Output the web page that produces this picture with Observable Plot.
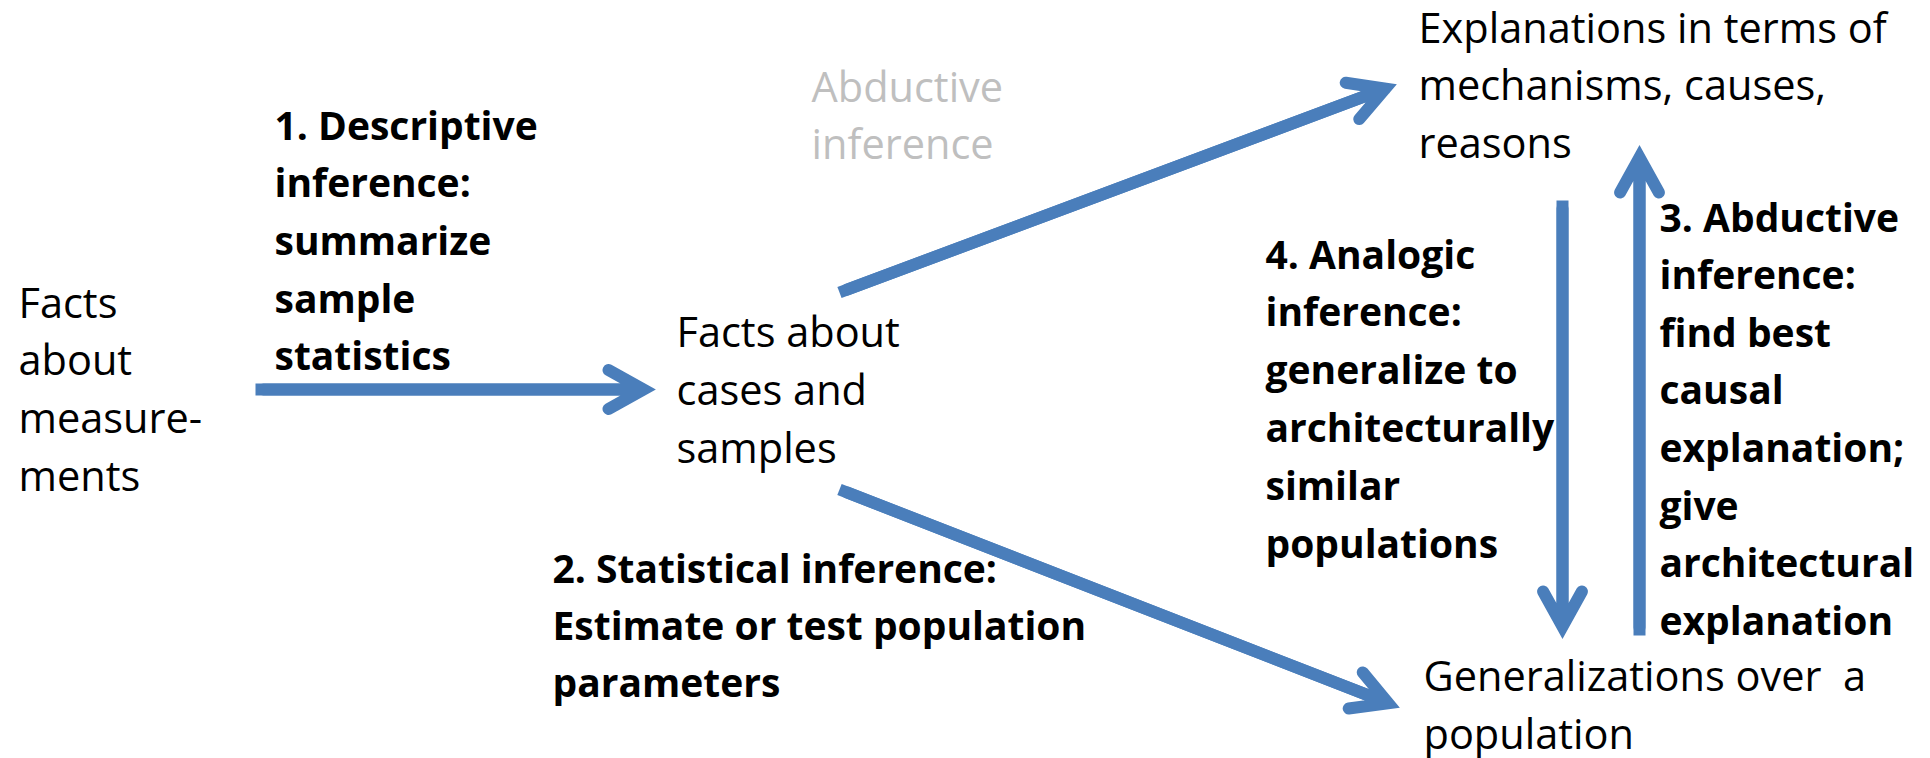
<!DOCTYPE html>
<html>
<head>
<meta charset="utf-8">
<script src="https://cdn.jsdelivr.net/npm/d3@7"></script>
<script src="https://cdn.jsdelivr.net/npm/@observablehq/plot@0.6"></script>
<style>
  html, body { margin: 0; padding: 0; background: #ffffff; }
  svg text { white-space: pre; }
</style>
</head>
<body>
<div id="chart"></div>
<script>
// ---- Diagram content ----
// Text blocks: lines, anchor (left x, first baseline y), line step, style kind
const blockLines = [
  ["Facts", "about", "measure-", "ments"],
  ["1. Descriptive", "inference:", "summarize", "sample", "statistics"],
  ["Abductive", "inference"],
  ["Facts about", "cases and", "samples"],
  ["Explanations in terms of", "mechanisms, causes,", "reasons"],
  ["4. Analogic", "inference:", "generalize to", "architecturally", "similar", "populations"],
  ["3. Abductive", "inference:", "find best", "causal", "explanation;", "give", "architectural", "explanation"],
  ["2. Statistical inference:", "Estimate or test population", "parameters"],
  ["Generalizations over  a", "population"]
];
const blockKind = ["node", "step", "faint", "node", "node", "step", "step", "step", "node"];
const blockX = [18, 274, 811, 676, 1418, 1265, 1659, 552, 1423];
const blockY = [317, 139, 101, 346, 42, 268, 231, 582, 690];
const blockStep = [57.7, 57.7, 57.5, 58, 57.5, 57.8, 57.6, 57, 58];

// Arrows: start and tip points
const arrowX1 = [255, 839, 839, 1562, 1639];
const arrowY1 = [389, 292, 489, 200, 635];
const arrowX2 = [655, 1396, 1399, 1562, 1639];
const arrowY2 = [389, 84, 707, 638, 145];

// ---- Build tables ----
const textRows = blockLines.flatMap((lines, b) =>
  lines.map((t, i) => ({text: t, x: blockX[b], y: blockY[b] + i * blockStep[b], kind: blockKind[b]}))
);
const arrows = arrowX1.map((x1, i) => ({x1, y1: arrowY1[i], x2: arrowX2[i], y2: arrowY2[i]}));

const W = 1930, H = 758;
const blue = "#4a7ebb";
const fontFamily = "'Open Sans', sans-serif";

const chart = Plot.plot({
  width: W,
  height: H,
  margin: 0,
  x: {type: "linear", domain: [0, W], range: [0, W], axis: null},
  y: {type: "linear", domain: [0, H], range: [0, H], axis: null},
  style: {background: "#ffffff"},
  marks: [
    // shafts with square ends
    Plot.arrow(arrows, {x1: "x1", y1: "y1", x2: "x2", y2: "y2", stroke: blue, strokeWidth: 12,
      headLength: 0, strokeLinecap: "butt", insetEnd: 30}),
    // arrowheads (open chevrons, rounded wing ends)
    Plot.arrow(arrows, {x1: "x1", y1: "y1", x2: "x2", y2: "y2", stroke: blue, strokeWidth: 12,
      headAngle: 58, headLength: 5, insetStart: 8, insetEnd: 12, strokeMiterlimit: 6, strokeLinecap: "round"}),
    Plot.text(textRows.filter(d => d.kind === "node"), {x: "x", y: "y", text: "text", textAnchor: "start",
      lineAnchor: "bottom", fontSize: 41.5, fontFamily, fill: "#000000"}),
    Plot.text(textRows.filter(d => d.kind === "step"), {x: "x", y: "y", text: "text", textAnchor: "start",
      lineAnchor: "bottom", fontSize: 39, fontWeight: "bold", fontFamily, fill: "#000000"}),
    Plot.text(textRows.filter(d => d.kind === "faint"), {x: "x", y: "y", text: "text", textAnchor: "start",
      lineAnchor: "bottom", fontSize: 41.5, fontFamily, fill: "#bfbfbf"})
  ]
});
document.getElementById("chart").appendChild(chart);
</script>
</body>
</html>
